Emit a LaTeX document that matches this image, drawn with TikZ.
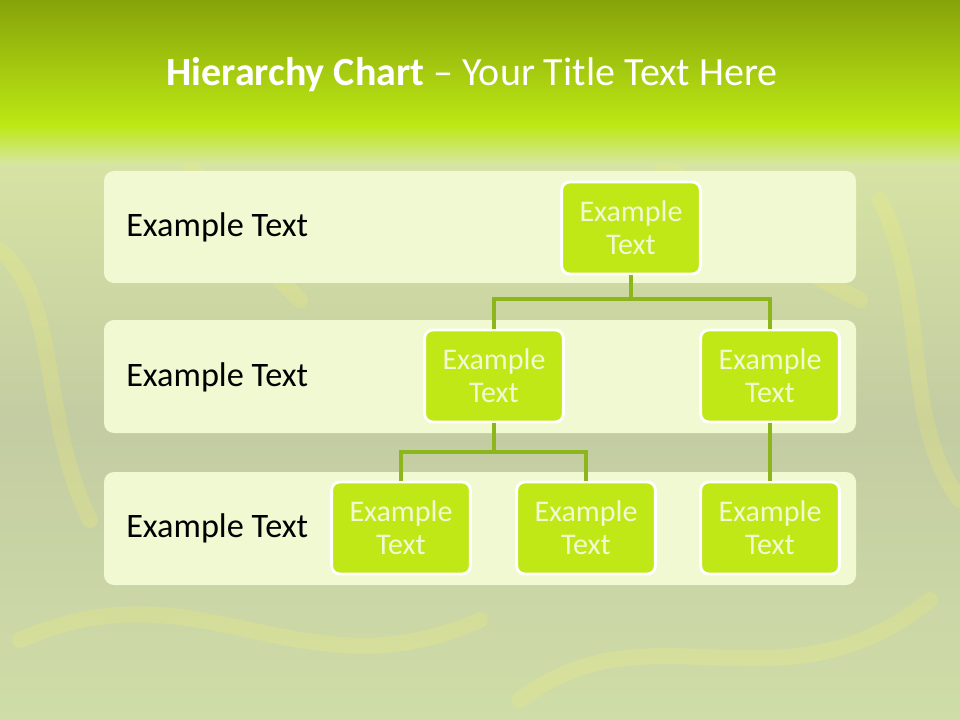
\documentclass[tikz,border=0pt]{standalone}
\usepackage{fontspec}
\setmainfont{Carlito}
\begin{document}
\begin{tikzpicture}[x=0.75pt,y=-0.75pt,
  band/.style={fill=bandfill,draw=none,rounded corners=7.5pt},
  leaf/.style={fill=boxfill,draw=white,line width=2.2pt,rounded corners=6pt,minimum width=104pt,minimum height=69pt,inner sep=0pt,align=center,text=boxtext,font=\fontsize{22.5}{25}\selectfont},
  rowlabel/.style={anchor=west,font=\fontsize{25.7}{30}\selectfont,text=black,inner sep=0pt},
  link/.style={draw=linkcol,line width=2.3pt}]
\definecolor{bandfill}{HTML}{F1F9D2}
\definecolor{boxfill}{HTML}{BFE816}
\definecolor{boxtext}{HTML}{F2F9D4}
\definecolor{linkcol}{HTML}{8DB51C}
\definecolor{topc}{HTML}{86A30A}
\definecolor{midc}{HTML}{BDE814}
\definecolor{bga}{HTML}{D8E6A4}
\definecolor{bgb}{HTML}{C3CCA2}
\definecolor{bgc}{HTML}{CFDDA8}
\useasboundingbox (0,0) rectangle (960,720);
% background
\shade[top color=bga,bottom color=bgb] (0,130) rectangle (960,420);
\shade[top color=bgb,bottom color=bgc] (0,420) rectangle (960,720);
\begin{scope}[opacity=0.18,line width=12pt,draw=yellow!60!white,line cap=round]
\draw (0,250) .. controls (60,300) and (40,420) .. (90,520);
\draw (880,200) .. controls (930,300) and (900,420) .. (960,500);
\draw (20,640) .. controls (200,560) and (300,700) .. (480,620);
\draw (520,700) .. controls (650,600) and (780,720) .. (930,600);
\draw (180,140) .. controls (200,200) and (260,260) .. (300,300);
\draw (620,130) .. controls (700,190) and (760,250) .. (860,300);
\end{scope}
\shade[top color=topc,bottom color=midc] (0,0) rectangle (960,125);
\shade[top color=midc,bottom color=bga] (0,125) rectangle (960,165);
% title
\node[text=white,font=\fontsize{30}{34}\selectfont,inner sep=0pt] (title) at (472,75) {\textbf{Hierarchy Chart} – Your Title Text Here};
% bands
\path[band] (104,171) rectangle (856,283);
\path[band] (104,320) rectangle (856,433);
\path[band] (104,472) rectangle (856,585);
\node[rowlabel] (l1) at (126,227) {Example Text};
\node[rowlabel] (l2) at (126,377) {Example Text};
\node[rowlabel] (l3) at (126,528) {Example Text};
% boxes
\node[leaf] (a) at (631,228) {Example\\Text};
\node[leaf] (b) at (494,376) {Example\\Text};
\node[leaf] (c) at (770,376) {Example\\Text};
\node[leaf] (d) at (401,528) {Example\\Text};
\node[leaf] (e) at (586,528) {Example\\Text};
\node[leaf] (f) at (770,528) {Example\\Text};
% connectors
\coordinate (j1) at (631,299);
\coordinate (j2) at (494,452);
\draw[link] (a.south) -- (j1) -| (b.north);
\draw[link] (j1) -| (c.north);
\draw[link] (b.south) -- (j2) -| (d.north);
\draw[link] (j2) -| (e.north);
\draw[link] (c.south) -- (f.north);
\end{tikzpicture}
\end{document}
